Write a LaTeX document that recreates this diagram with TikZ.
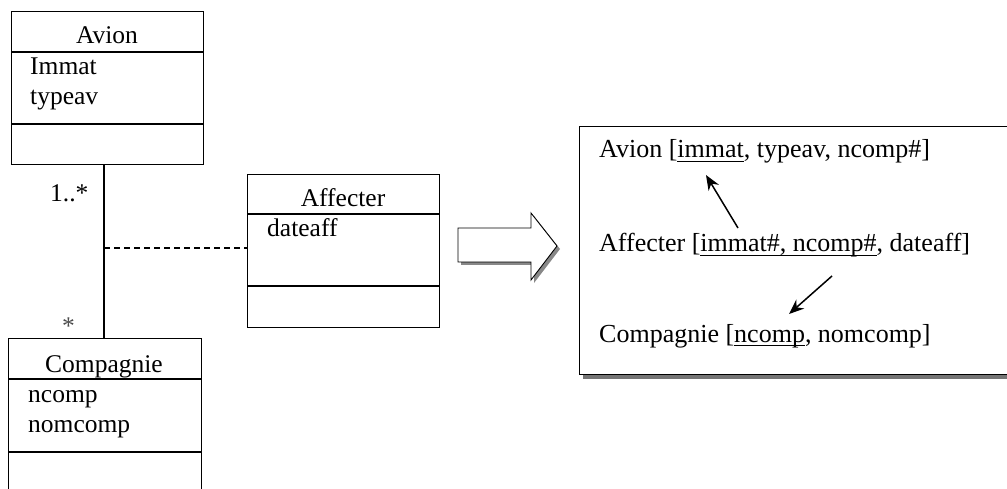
\documentclass[tikz,border=0pt]{standalone}
\usepackage{fontspec}
\setmainfont{Liberation Serif}
\usetikzlibrary{arrows.meta,shadows}
% underline a key attribute with a rule that sits just below the baseline
\newcommand\keyul[1]{\setbox0=\hbox{#1}\rlap{\rule[-4pt]{\wd0}{1.1pt}}\box0}

\begin{document}
\begin{tikzpicture}[x=1pt,y=-1pt,
  umlbox/.style={draw, line width=1.3pt, anchor=north west, inner sep=0pt},
  umltext/.style={anchor=base west, inner sep=0pt, font=\fontsize{25.5}{29}\selectfont},
  umltitle/.style={anchor=base, inner sep=0pt, font=\fontsize{25.5}{29}\selectfont},
  reltext/.style={anchor=base west, inner sep=0pt, font=\fontsize{26}{30}\selectfont},
  umlline/.style={line width=1.3pt},
  fkarrow/.style={line width=1.5pt, -{Stealth[length=15pt,width=12pt]}}]
\useasboundingbox (0,0) rectangle (1007,489);

% class Avion
\node[umlbox, minimum width=192pt, minimum height=153pt] (avion) at (11,11) {};
\draw[umlline] ([yshift=-41pt]avion.north west) -- ([yshift=-41pt]avion.north east);
\draw[umlline] ([yshift=-113pt]avion.north west) -- ([yshift=-113pt]avion.north east);
\node[umltitle] (avionT) at (107,44) {Avion};
\node[umltext] (avionA1) at (30,75) {Immat};
\node[umltext] (avionA2) at (30,105) {typeav};

% class Compagnie
\node[umlbox, minimum width=193pt, minimum height=170pt] (compagnie) at (8,338) {};
\draw[umlline] ([yshift=-41pt]compagnie.north west) -- ([yshift=-41pt]compagnie.north east);
\draw[umlline] ([yshift=-114pt]compagnie.north west) -- ([yshift=-114pt]compagnie.north east);
\node[umltitle] (compT) at (104,372) {Compagnie};
\node[umltext] (compA1) at (28,402) {ncomp};
\node[umltext] (compA2) at (28,432) {nomcomp};

% association class Affecter
\node[umlbox, minimum width=192pt, minimum height=153pt] (affecter) at (247,174) {};
\draw[umlline] ([yshift=-40pt]affecter.north west) -- ([yshift=-40pt]affecter.north east);
\draw[umlline] ([yshift=-112pt]affecter.north west) -- ([yshift=-112pt]affecter.north east);
\node[umltitle] (affT) at (343,207) {Affecter};
\node[umltext] (affA1) at (267,237) {dateaff};

% association and its link to the association class
\coordinate (assoc) at (104,0);
\coordinate (link) at (104,248);
\draw[umlline] (avion.south -| assoc) -- (compagnie.north -| assoc);
\draw[line width=1.2pt, dash pattern=on 6pt off 4pt] (link) -- (affecter.west |- link);
\node[umltext] (multA) at (50,202) {1..*};
\node[umltext, text=black!70] (multC) at (62,334) {*};

% transformation arrow
\draw[line width=0.9pt, fill=white,
      drop shadow={shadow xshift=3pt, shadow yshift=-3pt, fill=black!55, opacity=0.85}]
  (458,228) -- (531,228) -- (531,213) -- (557,246) -- (531,280) -- (531,262) -- (458,262) -- cycle;

% relational schema
\node[draw, line width=1.3pt, fill=white, anchor=north west, inner sep=0pt,
      minimum width=440pt, minimum height=248pt,
      drop shadow={shadow xshift=3pt, shadow yshift=-4pt, fill=black!60, opacity=0.9}]
  (schema) at (579,126) {};
\node[reltext] (relAvion) at (599,158) {Avion [\keyul{immat}, typeav, ncomp\#]};
\node[reltext] (relAff) at (599,252) {Affecter [\keyul{immat\#, ncomp\#}, dateaff]};
\node[reltext] (relComp) at (599,342) {Compagnie [\keyul{ncomp}, nomcomp]};

\coordinate (fk1s) at (738,228);
\coordinate (fk1e) at (706,175);
\coordinate (fk2s) at (832,276);
\coordinate (fk2e) at (789,314);
\draw[fkarrow] (fk1s) -- (fk1e);
\draw[fkarrow] (fk2s) -- (fk2e);
\end{tikzpicture}
\end{document}
